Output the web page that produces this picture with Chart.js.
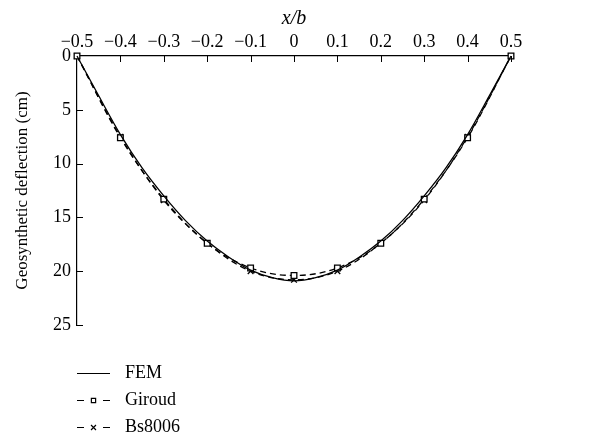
<!DOCTYPE html>
<html>
<head>
<meta charset="utf-8">
<script src="https://cdn.jsdelivr.net/npm/chart.js@4/dist/chart.umd.min.js"></script>
<style>
  html, body { margin: 0; padding: 0; background: #fff; }
  #wrap { position: relative; width: 610px; height: 440px; }
</style>
</head>
<body>
<div id="wrap"><canvas id="c" width="610" height="440"></canvas></div>
<script>
// Position across the span (x/b) where the analytical methods are evaluated
const xPositions = [-0.5, -0.4, -0.3, -0.2, -0.1, 0, 0.1, 0.2, 0.3, 0.4, 0.5];
// Deflection (cm) by Giroud's method
const giroudDeflection = [0, 7.6, 13.3, 17.4, 19.7, 20.4, 19.7, 17.4, 13.3, 7.6, 0];
// Deflection (cm) by BS8006
const bs8006Deflection = [0, 7.5, 13.4, 17.4, 20.0, 20.8, 20.0, 17.4, 13.4, 7.5, 0];
// FEM deflection profile, sampled finer along the span
const femPositions = [-0.5, -0.45, -0.4, -0.35, -0.3, -0.25, -0.2, -0.15, -0.1, -0.05, 0,
                      0.05, 0.1, 0.15, 0.2, 0.25, 0.3, 0.35, 0.4, 0.45, 0.5];
const femDeflection = [0, 3.7, 7.3, 10.4, 13.0, 15.3, 17.2, 18.7, 19.9, 20.6, 20.9,
                       20.6, 19.9, 18.7, 17.2, 15.3, 13.0, 10.4, 7.3, 3.7, 0];
// Axis ticks
const xTicks = [-0.5, -0.4, -0.3, -0.2, -0.1, 0, 0.1, 0.2, 0.3, 0.4, 0.5];
const yTicks = [0, 5, 10, 15, 20, 25];

const SERIF = '"Liberation Serif", "DejaVu Serif", serif';
const pairs = (xs, ys) => xs.map((x, i) => ({ x: x, y: ys[i] }));

const fmtTick = v => {
  const r = Math.round(v * 10) / 10;
  if (r === 0) return '0';
  return (r < 0 ? '\u2212' : '') + Math.abs(r).toString();
};

// Inward tick marks and the stacked legend below the plot
const decor = {
  id: 'decor',
  afterDraw(chart) {
    const ctx = chart.ctx;
    const xs = chart.scales.x, ys = chart.scales.y;
    const area = chart.chartArea;
    ctx.save();
    ctx.strokeStyle = '#000';
    ctx.lineWidth = 1;
    ctx.beginPath();
    xTicks.forEach(v => {
      if (v === xTicks[0]) return;
      const px = Math.round(xs.getPixelForValue(v)) + 0.5;
      ctx.moveTo(px, area.top);
      ctx.lineTo(px, area.top + 6);
    });
    yTicks.forEach(v => {
      if (v === 0) return;
      const py = Math.round(ys.getPixelForValue(v)) + 0.5;
      ctx.moveTo(area.left, py);
      ctx.lineTo(area.left + 6, py);
    });
    ctx.stroke();

    // legend
    const x0 = 77, x1 = 110, tx = 125;
    const rows = [373, 400, 427];
    ctx.font = '18px ' + SERIF;
    ctx.textBaseline = 'middle';
    chart.data.datasets.forEach((ds, i) => {
      const y = rows[i] + 0.5;
      ctx.lineWidth = 1.2;
      ctx.strokeStyle = '#000';
      ctx.beginPath();
      if (!ds.borderDash || ds.borderDash.length === 0) {
        ctx.moveTo(x0, y); ctx.lineTo(x1, y);
      } else {
        ctx.moveTo(x0, y); ctx.lineTo(x0 + 7, y);
        ctx.moveTo(x1 - 7, y); ctx.lineTo(x1, y);
      }
      ctx.stroke();
      if (ds.pointRadius > 0) {
        ctx.fillStyle = '#fff';
        ctx.lineWidth = 1.2;
        Chart.helpers.drawPoint(ctx, {
          pointStyle: ds.pointStyle,
          radius: ds.pointStyle === 'rect' ? 3 : 3.5,
          rotation: 0,
          borderWidth: 1.2
        }, (x0 + x1) / 2, y);
      }
      ctx.fillStyle = '#000';
      ctx.fillText(ds.label, tx, y);
    });
    ctx.restore();
  }
};

new Chart(document.getElementById('c'), {
  type: 'line',
  data: {
    datasets: [
      {
        label: 'FEM',
        data: pairs(femPositions, femDeflection),
        borderColor: '#000',
        borderWidth: 1.3,
        pointRadius: 0,
        cubicInterpolationMode: 'monotone',
        clip: false
      },
      {
        label: 'Giroud',
        data: pairs(xPositions, giroudDeflection),
        borderColor: '#000',
        borderWidth: 1.3,
        borderDash: [6, 4],
        pointStyle: 'rect',
        pointRadius: 4,
        pointBorderWidth: 1.3,
        pointBorderColor: '#000',
        pointBackgroundColor: '#fff',
        cubicInterpolationMode: 'monotone',
        clip: false
      },
      {
        label: 'Bs8006',
        data: pairs(xPositions, bs8006Deflection),
        borderColor: '#000',
        borderWidth: 1.3,
        borderDash: [6, 4],
        pointStyle: 'crossRot',
        pointRadius: 4,
        pointBorderWidth: 1.3,
        pointBorderColor: '#000',
        cubicInterpolationMode: 'monotone',
        clip: false
      }
    ]
  },
  options: {
    responsive: false,
    animation: false,
    devicePixelRatio: 1,
    layout: { padding: { left: 0, top: 0, right: 99, bottom: 115 } },
    plugins: {
      legend: { display: false },
      tooltip: { enabled: false }
    },
    scales: {
      x: {
        type: 'linear',
        position: 'top',
        min: -0.5,
        max: 0.5,
        afterBuildTicks: s => { s.ticks = xTicks.map(v => ({ value: v })); },
        afterFit: s => { s.height = 56; },
        grid: { display: true, drawOnChartArea: false, drawTicks: false },
        border: { display: true, color: '#000', width: 1.2 },
        ticks: {
          color: '#000',
          font: { family: SERIF, size: 18 },
          padding: 3,
          maxRotation: 0,
          autoSkip: false,
          callback: v => fmtTick(v)
        },
        title: {
          display: true,
          text: 'x/b',
          color: '#000',
          font: { family: SERIF, size: 20, style: 'italic' },
          padding: { top: 7, bottom: 0 }
        }
      },
      y: {
        type: 'linear',
        reverse: true,
        min: 0,
        max: 25,
        afterBuildTicks: s => { s.ticks = yTicks.map(v => ({ value: v })); },
        afterFit: s => { s.width = 77; },
        grid: { display: true, drawOnChartArea: false, drawTicks: false },
        border: { display: true, color: '#000', width: 1.2 },
        ticks: {
          color: '#000',
          font: { family: SERIF, size: 18 },
          padding: 6,
          autoSkip: false,
          callback: v => String(v)
        },
        title: {
          display: true,
          text: 'Geosynthetic deflection (cm)',
          color: '#000',
          font: { family: SERIF, size: 17 },
          padding: { top: 12, bottom: 0 }
        }
      }
    }
  },
  plugins: [decor]
});
</script>
</body>
</html>
